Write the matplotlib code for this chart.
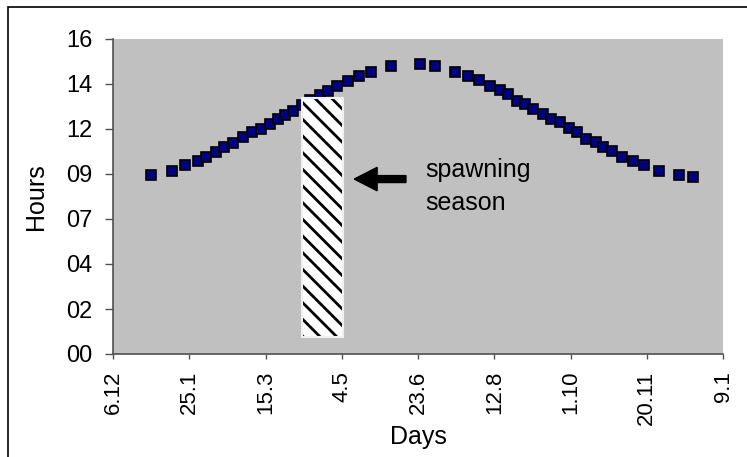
import matplotlib
matplotlib.use("Agg")
import matplotlib.pyplot as plt
from matplotlib.patches import Rectangle

# day length data, x = days counted from 6 Dec
days = [25, 38.5, 47.5, 55.5, 61, 67.5, 72.5, 79, 85.5, 91,
        97, 103, 108, 113, 118, 124, 129, 136, 141, 147,
        154, 161.5, 169.5, 182.5, 201, 211, 224.5, 232.5, 240, 247,
        254, 259, 265, 270, 275.5, 282, 287.5, 293, 299, 304.5,
        310, 316.5, 321.5, 327, 333.5, 341, 348, 358, 371, 380.5]
hours = [9.56, 9.78, 10.10, 10.31, 10.52, 10.76, 11.06, 11.27, 11.59, 11.82,
         12.02, 12.25, 12.55, 12.76, 12.98, 13.28, 13.55, 13.79, 14.04, 14.29,
         14.58, 14.83, 15.02, 15.36, 15.45, 15.34, 15.02, 14.81, 14.60, 14.28,
         14.07, 13.85, 13.51, 13.32, 13.07, 12.80, 12.53, 12.36, 12.04, 11.82,
         11.48, 11.29, 11.06, 10.84, 10.52, 10.31, 10.08, 9.78, 9.56, 9.46]

x_tick_days = [0, 50, 100, 150, 200, 250, 300, 350, 400]
x_tick_labels = ["6.12", "25.1", "15.3", "4.5", "23.6", "12.8", "1.10", "20.11", "9.1"]
y_tick_hours = [0, 2.4, 4.8, 7.2, 9.6, 12.0, 14.4, 16.8]
y_tick_labels = ["00", "02", "04", "07", "09", "12", "14", "16"]

# spawning season box
spawn_start, spawn_end = 123.7, 150.6
spawn_low, spawn_high = 0.9, 13.65

plt.rcParams['font.family'] = ['Liberation Sans', 'DejaVu Sans']
plt.rcParams['hatch.linewidth'] = 2.0

fig = plt.figure(figsize=(7.47, 4.57), dpi=100)
ax = fig.add_axes([113 / 747, 103 / 457, 610 / 747, 315 / 457])
ax.set_facecolor('#c0c0c0')

ax.plot(days, hours, linestyle='none', marker='s', markersize=7.5,
        markerfacecolor='#000080', markeredgecolor='black',
        markeredgewidth=1.2, zorder=3)

# hatched bar, then a white outline on top
ax.bar(spawn_start, spawn_high - spawn_low, bottom=spawn_low,
       width=spawn_end - spawn_start, align='edge', color='white',
       edgecolor='black', linewidth=0, hatch='\\\\', zorder=4)
ax.bar(spawn_start, spawn_high - spawn_low, bottom=spawn_low,
       width=spawn_end - spawn_start, align='edge', fill=False,
       edgecolor='#f0f0f0', linewidth=1.5, zorder=5)

ax.arrow(192.1, 9.33, -33.9, 0, width=0.37, head_width=1.25,
         head_length=15, length_includes_head=True, color='black', zorder=5)
ax.text(204.6, 8.93, "spawning\nseason", fontsize=18, ha='left', va='center',
        linespacing=1.5)

ax.set_xlim(0, 400)
ax.set_ylim(0, 16.8)
ax.set_xticks(x_tick_days)
ax.set_xticklabels(x_tick_labels, rotation=90, fontsize=16)
ax.set_yticks(y_tick_hours)
ax.set_yticklabels(y_tick_labels, fontsize=17)

for side in ['top', 'right']:
    ax.spines[side].set_visible(False)
for side in ['left', 'bottom']:
    ax.spines[side].set_color('#505050')
    ax.spines[side].set_linewidth(1.2)
ax.tick_params(axis='y', direction='out', length=5.8, width=1, color='#505050', pad=9)
ax.tick_params(axis='x', direction='out', length=3.6, width=1, color='#505050', pad=8.5)

ax.set_xlabel("Days", fontsize=18)
ax.xaxis.set_label_coords(0.5, (354 - 437) / 315)
ax.xaxis.label.set_va('center')
ax.set_ylabel("Hours", fontsize=18)
ax.yaxis.set_label_coords((36 - 113) / 610, 0.5)
ax.yaxis.label.set_va('center')

# chart border (only left and top fall inside the picture)
fig.add_artist(Rectangle((8 / 747, -0.5), 2, 0.5 + (457 - 7) / 457,
                         transform=fig.transFigure, fill=False,
                         edgecolor='black', linewidth=1.2))

fig.savefig("out.png", dpi=100)
